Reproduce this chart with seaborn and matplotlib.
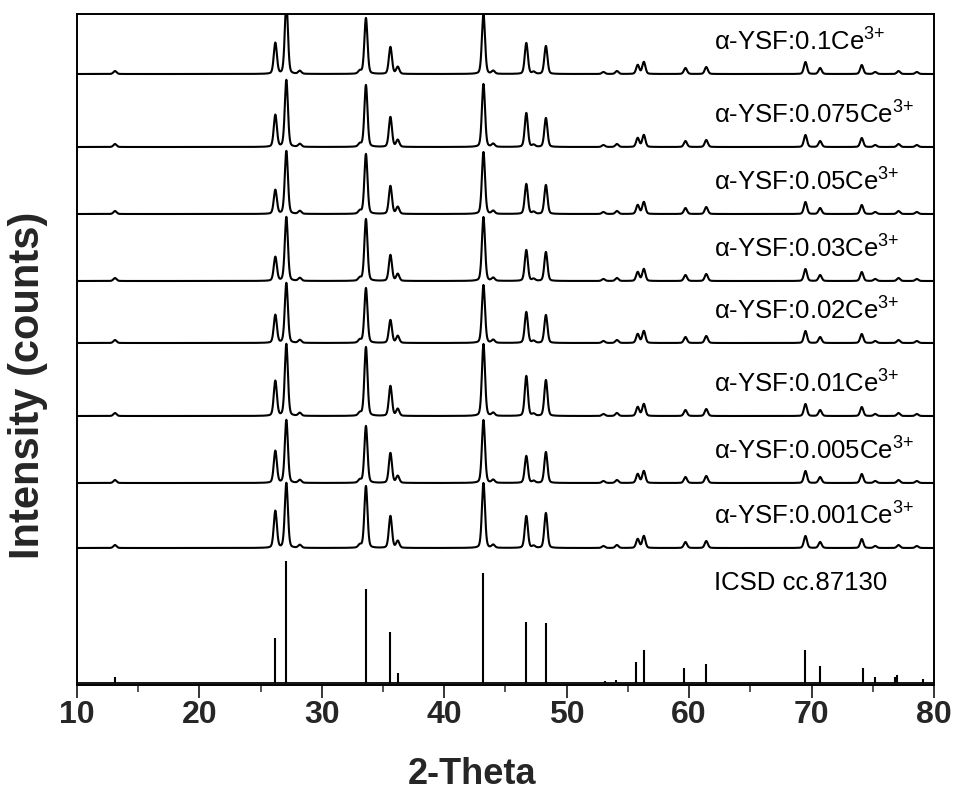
import numpy as np
import pandas as pd
import matplotlib
matplotlib.use("Agg")
import matplotlib.pyplot as plt
import seaborn as sns
from matplotlib.ticker import MultipleLocator

# ---------------- data ----------------
sample_labels = ["0.1", "0.075", "0.05", "0.03", "0.02", "0.01", "0.005", "0.001"]
sample_offsets = [611, 538, 471, 404, 342, 269, 202, 137]

major_pos = [26.2, 27.1, 33.6, 35.6, 43.2, 46.7, 48.3]
major_heights = {
    "0.1":   [31, 72, 56, 27, 60, 31, 28],
    "0.075": [32, 67, 62, 30, 63, 34, 29],
    "0.05":  [24, 63, 60, 28, 62, 30, 29],
    "0.03":  [24, 64, 62, 26, 64, 31, 29],
    "0.02":  [28, 60, 55, 23, 58, 31, 28],
    "0.01":  [35, 72, 69, 30, 72, 40, 36],
    "0.005": [32, 63, 57, 30, 63, 27, 31],
    "0.001": [37, 65, 62, 32, 65, 32, 35],
}
minor_pos = [13.1, 28.2, 33.1, 36.2, 44.0, 47.3, 53.0, 54.1, 55.8, 56.3,
             59.7, 61.4, 69.5, 70.7, 74.1, 75.2, 77.1, 78.6]
minor_heights = [3, 3, 3, 7, 3, 2, 2, 3, 9, 12, 6, 7, 12, 6, 9, 2, 3, 2]

icsd_pos = [13.1, 26.2, 27.1, 33.6, 35.6, 36.2, 43.2, 46.7, 48.3, 53.1, 54.0,
            55.7, 56.3, 59.6, 61.4, 69.5, 70.7, 74.2, 75.2, 76.8, 77.0, 79.1]
icsd_heights = [6, 45, 122, 94, 51, 10, 110, 61, 60, 2, 3,
                21, 33, 15, 19, 33, 17, 15, 6, 6, 8, 4]
icsd_offset = 2
icsd_label = "ICSD cc.87130"

x_ticks = [10, 20, 30, 40, 50, 60, 70, 80]

# ---------------- build curves ----------------
two_theta = np.linspace(10, 80, 3501)
fwhm = 0.3

def profile(pos, hts):
    y = np.zeros_like(two_theta)
    s = fwhm / 2.3548
    g = fwhm / 2
    for p, h in zip(pos, hts):
        gauss = np.exp(-0.5 * ((two_theta - p) / s) ** 2)
        lor = 1.0 / (1.0 + ((two_theta - p) / g) ** 2)
        y += h * (0.75 * gauss + 0.25 * lor)
    return y

frames = []
for lab, off in zip(sample_labels, sample_offsets):
    y = off + profile(major_pos, major_heights[lab]) + profile(minor_pos, minor_heights)
    frames.append(pd.DataFrame({"two_theta": two_theta, "intensity": y, "sample": lab}))
df = pd.concat(frames, ignore_index=True)

# ---------------- plot ----------------
sns.set_theme(style="white")
plt.rcParams["font.family"] = ["Liberation Sans", "DejaVu Sans"]
plt.rcParams["mathtext.fontset"] = "custom"
plt.rcParams["mathtext.rm"] = "Liberation Sans"
plt.rcParams["mathtext.it"] = "Liberation Sans"

fig = plt.figure(figsize=(9.54, 7.98), dpi=100)
ax = fig.add_axes([77 / 954, 1 - 685 / 798, (934 - 77) / 954, (685 - 14) / 798])

sns.lineplot(data=df, x="two_theta", y="intensity", units="sample",
             estimator=None, color="black", lw=1.5, ax=ax, sort=False)

# ICSD reference sticks
sns.lineplot(x=[10, 80], y=[icsd_offset, icsd_offset], color="black", lw=1.3, ax=ax)
ax.vlines(icsd_pos, icsd_offset, [icsd_offset + h for h in icsd_heights],
          color="black", lw=1.5)

for lab, off in zip(sample_labels, sample_offsets):
    ax.text(62.0, off + 23, "α-YSF:" + lab + "Ce$^{3{+}}$", fontsize=18.5,
            ha="left", va="baseline", color="black")
ax.text(62.0, icsd_offset + 93, icsd_label, fontsize=18.5, ha="left",
        va="baseline", color="black")

ax.set_xlim(10, 80)
ax.set_ylim(0, 671)
ax.set_xticks(x_ticks)
ax.xaxis.set_minor_locator(MultipleLocator(5))
ax.set_yticks([])
ax.tick_params(axis="x", which="major", direction="out", length=9, width=1.3,
               bottom=True, labelsize=23, pad=2)
ax.tick_params(axis="x", which="minor", direction="out", length=5, width=1.1,
               bottom=True)
for lbl in ax.get_xticklabels():
    lbl.set_fontweight("bold")
for sp in ax.spines.values():
    sp.set_color("black")
    sp.set_linewidth(1.4)

ax.set_xlabel("2-Theta", fontsize=26, fontweight="bold", va="center", ha="center")
ax.xaxis.set_label_coords((472 - 77) / 857, -(775 - 685) / 671)
ax.set_ylabel("Intensity (counts)", fontsize=30, fontweight="bold",
              va="center", ha="center")
ax.yaxis.set_label_coords((28 - 77) / 857, (685 - 385) / 671)

fig.savefig("out.png", dpi=100, facecolor="white")
